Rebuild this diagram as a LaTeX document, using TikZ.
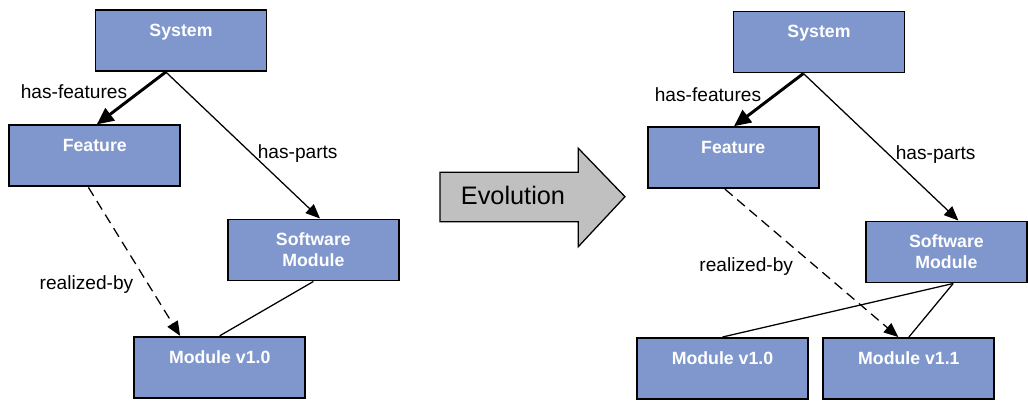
\documentclass[tikz,border=0pt]{standalone}
\usepackage{fontspec}
\setmainfont{Liberation Sans}
\usetikzlibrary{arrows.meta}
\definecolor{cBox}   {HTML}{7F97CC}
\definecolor{cEvo}   {HTML}{C0C0C0}

\tikzset{
  entity/.style={draw=black, line width=1.4pt, fill=cBox, text=white,
    font=\fontsize{12.6}{14.7}\selectfont\bfseries, align=center,
    minimum width=42.75mm, minimum height=15.25mm, inner sep=0pt,
    text height=6.6mm, text depth=8.65mm},
  twoline/.style={text height=11.75mm, text depth=3.5mm},
  relname/.style={font=\fontsize{13.6}{15}\selectfont, inner sep=0pt},
  hasfeat/.style={line width=2.1pt, -{Triangle[length=4.2mm, width=3.8mm]}},
  haspart/.style={line width=0.9pt, -{Triangle[length=3.6mm, width=3mm]}},
  realize/.style={line width=0.9pt, dash pattern=on 2.5mm off 1.5mm,
    -{Triangle[length=3.6mm, width=3mm]}},
  partof/.style={line width=0.9pt},
}

\begin{document}
\begin{tikzpicture}[x=0.25mm, y=-0.25mm]
  \useasboundingbox (0,0) rectangle (1028,400);

  % before
  \node[entity] (sysL)  at (181,40.5)   {System};
  \node[entity] (featL) at (94.8,155.9) {Feature};
  \node[entity, twoline] (swL) at (313.4,250) {Software\\Module};
  \node[entity] (modL)  at (219.7,367.3){Module v1.0};

  \draw[hasfeat] ([xshift=-3.8mm]sysL.south) -- ([xshift=0.5mm]featL.north);
  \draw[haspart] ([xshift=-3.8mm]sysL.south) -- ([xshift=1.65mm]swL.north);
  \draw[partof]  (swL.south) -- (modL.north);
  \draw[realize] ([xshift=-1.6mm]featL.south) -- ([xshift=-9.9mm]modL.north);

  \node[relname] (featLblL) at (74,91.7)  {has-features};
  \node[relname] (partLblL) at (297.7,154) {has-parts};
  \node[relname] (realLblL) at (86.5,285) {realized-by};

  % evolution arrow
  \draw[fill=cEvo, line width=0.9pt, line join=miter]
    (440,172.3) -- (578.3,172.3) -- (578.3,148.3) -- (625,196.7)
    -- (578.3,246.7) -- (578.3,221.7) -- (440,221.7) -- cycle;
  \node[font=\fontsize{18}{20}\selectfont, inner sep=0pt] (evo) at (513,195) {Evolution};

  % after
  \node[entity] (sysR)   at (819,42)      {System};
  \node[entity] (featR)  at (733.2,157.7) {Feature};
  \node[entity, twoline, minimum width=40.4mm] (swR) at (946.4,252) {Software\\Module};
  \node[entity] (mod10R) at (722.5,368.5) {Module v1.0};
  \node[entity] (mod11R) at (908.9,368.5) {Module v1.1};

  \draw[hasfeat] ([xshift=-3.9mm]sysR.south) -- ([xshift=0.2mm]featR.north);
  \draw[haspart] ([xshift=-3.9mm]sysR.south) -- ([xshift=3mm]swR.north);
  \draw[partof]  ([xshift=1.7mm]swR.south) -- (mod10R.north);
  \draw[partof]  ([xshift=1.7mm]swR.south) -- (mod11R.north);
  \draw[realize] ([xshift=-2.05mm]featR.south) -- ([xshift=-2.65mm]mod11R.north);

  \node[relname] (featLblR) at (708,94.3)   {has-features};
  \node[relname] (partLblR) at (935.7,155)  {has-parts};
  \node[relname] (realLblR) at (746.2,266.7){realized-by};
\end{tikzpicture}
\end{document}
